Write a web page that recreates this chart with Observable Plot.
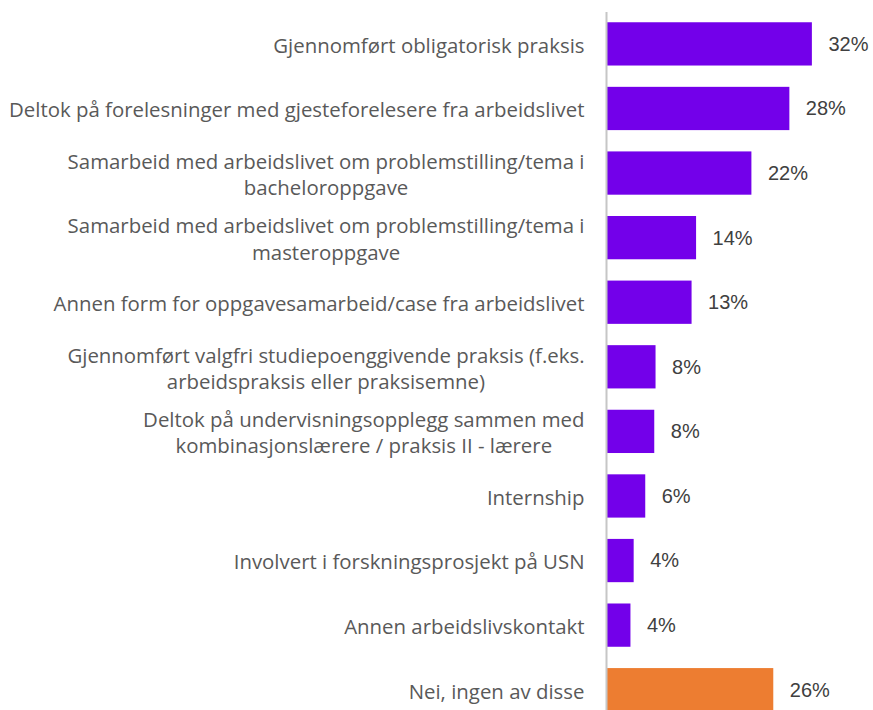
<!DOCTYPE html>
<html>
<head>
<meta charset="utf-8">
<script src="https://cdn.jsdelivr.net/npm/d3@7"></script>
<script src="https://cdn.jsdelivr.net/npm/@observablehq/plot@0.6"></script>
<style>
  html, body { margin: 0; padding: 0; background: #fff; }
  #chart svg { display: block; }
</style>
</head>
<body>
<div id="chart"></div>
<script>
const categories = [
  "Gjennomført obligatorisk praksis",
  "Deltok på forelesninger med gjesteforelesere fra arbeidslivet",
  "Samarbeid med arbeidslivet om problemstilling/tema i bacheloroppgave",
  "Samarbeid med arbeidslivet om problemstilling/tema i masteroppgave",
  "Annen form for oppgavesamarbeid/case fra arbeidslivet",
  "Gjennomført valgfri studiepoenggivende praksis (f.eks. arbeidspraksis eller praksisemne)",
  "Deltok på undervisningsopplegg sammen med kombinasjonslærere / praksis II - lærere",
  "Internship",
  "Involvert i forskningsprosjekt på USN",
  "Annen arbeidslivskontakt",
  "Nei, ingen av disse"
];
const labelLines = [
  "Gjennomført obligatorisk praksis",
  "Deltok på forelesninger med gjesteforelesere fra arbeidslivet",
  "Samarbeid med arbeidslivet om problemstilling/tema i\nbacheloroppgave",
  "Samarbeid med arbeidslivet om problemstilling/tema i\nmasteroppgave",
  "Annen form for oppgavesamarbeid/case fra arbeidslivet",
  "Gjennomført valgfri studiepoenggivende praksis (f.eks.\narbeidspraksis eller praksisemne)",
  "Deltok på undervisningsopplegg sammen med\nkombinasjonslærere / praksis II - lærere",
  "Internship",
  "Involvert i forskningsprosjekt på USN",
  "Annen arbeidslivskontakt",
  "Nei, ingen av disse"
];
const values = [32.0, 28.5, 22.6, 14.0, 13.3, 7.7, 7.5, 6.1, 4.3, 3.8, 26.0];
const valueLabels = ["32%", "28%", "22%", "14%", "13%", "8%", "8%", "6%", "4%", "4%", "26%"];
const groups = ["ja", "ja", "ja", "ja", "ja", "ja", "ja", "ja", "ja", "ja", "nei"];

const data = categories.map((c, i) => ({
  category: c, label: labelLines[i], value: values[i], valueLabel: valueLabels[i], group: groups[i]
}));

const chart = Plot.plot({
  width: 873,
  height: 710,
  marginLeft: 606,
  marginRight: 0,
  marginTop: 12,
  marginBottom: 0,
  x: { domain: [0, 41.5], axis: null },
  y: { domain: categories, range: [11.6, 722], paddingInner: 0.33, paddingOuter: 0.165, round: false, axis: null },
  color: { domain: ["ja", "nei"], range: ["#7300EA", "#ED7D31"] },
  marks: [
    Plot.barX(data, { x: "value", y: "category", fill: "group" }),
    Plot.ruleX([0], { stroke: "#c6c6c6", strokeWidth: 2 }),
    Plot.text(data, {
      x: 0, y: "category", text: "label", textAnchor: "end", dx: -22,
      fill: "#595959", fontSize: 20.4, lineHeight: 1.29,
      fontFamily: "Open Sans"
    }),
    Plot.text(data, {
      x: "value", y: "category", text: "valueLabel", textAnchor: "start", dx: 16,
      fill: "#404040", fontSize: 20, fontFamily: "Liberation Sans"
    })
  ]
});
document.getElementById("chart").appendChild(chart);

// Multi-line labels: lines centred within a block whose right edge sits at the label edge
chart.querySelectorAll("text").forEach(t => {
  if (t.querySelectorAll("tspan").length > 1) {
    const w = t.getBBox().width;
    t.setAttribute("text-anchor", "middle");
    t.querySelectorAll("tspan").forEach(s => s.setAttribute("text-anchor", "middle"));
    const tr = t.getAttribute("transform") || "";
    t.setAttribute("transform", tr + ` translate(${-w / 2},0)`);
  }
});
</script>
</body>
</html>
